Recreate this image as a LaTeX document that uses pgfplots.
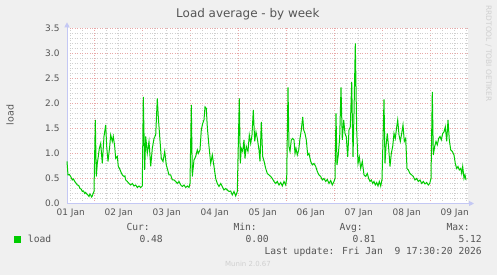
\documentclass[border=0pt]{standalone}
\usepackage{fontspec}
\setmainfont{DejaVu Sans}
\newfontfamily\monofont{DejaVu Sans Mono}
\usepackage{pgfplots}
\usepackage{pgfplotstable}
\pgfplotsset{compat=1.18}
\usetikzlibrary{arrows.meta}
\definecolor{munbg}{HTML}{F0F0F0}
\definecolor{txt}{HTML}{555555}
\definecolor{loadgreen}{HTML}{00CC00}
\definecolor{mgrid}{HTML}{E8A8A8}
\definecolor{mingrid}{HTML}{CFCFCF}
\definecolor{axcol}{HTML}{C4C8F4}
\definecolor{wm}{HTML}{D0D0D0}
\pgfplotstableread{
h v
10.15 0.84
10.65 0.57
11.3 0.58
12.0 0.54
12.8 0.47
13.4 0.49
14.0 0.44
14.6 0.41
15.3 0.37
16.0 0.36
16.65 0.30
17.2 0.29
17.8 0.24
18.4 0.25
19.0 0.20
19.5 0.22
20.0 0.19
20.6 0.17
21.15 0.14
21.6 0.19
22.0 0.17
22.4 0.13
22.8 0.15
23.2 0.20
23.65 0.24
24.3 1.67
24.8 0.54
25.3 0.80
25.8 0.94
26.3 1.10
27.0 1.20
27.8 0.80
28.65 1.34
29.5 1.57
30.0 1.14
30.65 0.84
31.5 1.14
32.0 1.37
32.8 1.24
33.3 1.34
34.0 1.14
34.5 0.90
35.3 0.94
35.8 0.74
36.4 0.70
37.0 0.64
37.8 0.57
38.65 0.54
39.1 0.55
39.5 0.47
40.3 0.44
41.15 0.40
42.0 0.37
42.8 0.40
43.65 0.35
44.5 0.37
45.3 0.32
46.15 0.35
47.0 0.32
47.8 0.35
48.3 2.13
49.0 0.67
49.5 1.34
50.3 1.00
51.15 1.24
52.0 0.74
52.8 1.10
53.65 1.30
54.5 1.37
55.3 2.10
55.8 1.73
56.5 1.34
57.3 0.90
58.15 0.84
59.0 1.04
59.8 0.77
60.3 0.70
61.15 0.57
62.0 0.57
62.8 0.47
63.65 0.47
64.5 0.44
65.3 0.40
66.15 0.44
67.0 0.37
67.8 0.34
68.65 0.37
69.5 0.32
70.3 0.35
71.15 0.32
71.65 0.40
72.3 1.97
72.8 0.54
73.65 0.87
74.5 0.94
75.3 1.07
75.8 1.00
76.65 1.07
77.3 1.47
78.0 1.60
78.65 1.67
79.15 1.93
79.8 1.90
80.3 1.53
81.15 1.14
82.0 0.80
82.8 0.97
83.65 0.74
84.5 0.50
85.3 0.40
86.15 0.34
87.0 0.40
87.8 0.34
88.65 0.27
89.5 0.30
90.3 0.27
91.15 0.24
92.0 0.25
92.8 0.17
93.65 0.24
94.5 0.15
95.3 0.24
96.3 2.10
96.8 0.80
97.3 1.10
98.0 1.04
98.65 1.27
99.15 0.90
99.8 1.14
100.65 1.04
101.3 1.37
102.0 1.20
102.65 1.37
103.3 1.87
104.0 1.24
104.65 1.43
105.3 1.30
106.15 1.07
106.65 0.84
107.3 1.63
108.0 0.94
108.65 0.85
109.5 0.70
110.3 0.60
111.15 0.57
112.0 0.54
112.8 0.50
113.65 0.44
114.5 0.40
115.3 0.44
116.15 0.37
117.0 0.42
117.8 0.35
118.65 0.44
119.5 0.37
120.0 0.50
120.65 2.32
121.15 1.13
121.65 1.04
122.3 1.27
123.0 1.30
123.65 1.27
124.15 1.00
124.65 1.10
125.3 0.97
126.0 1.07
126.65 1.30
127.3 1.47
128.0 1.73
128.5 1.47
129.15 1.40
129.8 1.27
130.5 0.97
131.15 1.00
132.0 0.84
132.8 0.77
133.65 0.80
134.5 0.74
135.3 0.64
136.15 0.57
137.0 0.54
137.8 0.47
138.65 0.50
139.5 0.44
140.3 0.48
141.15 0.40
142.0 0.46
142.8 0.37
143.65 0.44
144.15 0.50
144.65 1.80
145.15 0.77
145.8 0.97
146.5 1.33
147.15 2.32
147.8 1.27
148.5 1.67
149.15 1.40
149.8 1.33
150.5 0.93
151.15 1.47
151.8 1.53
152.5 2.43
153.15 0.93
153.65 1.80
154.3 3.20
155.0 1.47
155.65 0.80
156.3 0.93
157.0 0.70
157.8 0.84
158.65 0.57
159.5 0.54
160.3 0.60
161.0 0.50
161.65 0.44
162.3 0.47
163.0 0.40
163.65 0.44
164.3 0.37
165.0 0.42
165.65 0.35
166.3 0.44
167.0 0.35
167.65 0.48
168.65 2.08
169.15 0.80
169.65 1.14
170.3 1.40
171.0 1.10
171.65 0.74
172.3 1.00
173.0 1.14
173.65 1.40
174.3 1.30
175.0 1.53
175.5 1.67
176.15 1.37
176.8 1.24
177.5 1.40
178.15 1.57
178.8 1.24
179.5 1.30
180.15 0.70
180.8 0.67
181.65 0.60
182.5 0.57
183.3 0.54
184.15 0.47
185.0 0.50
185.8 0.44
186.65 0.47
187.5 0.40
188.3 0.44
189.15 0.39
190.0 0.42
190.8 0.37
191.5 0.40
192.15 0.50
192.8 2.23
193.3 0.97
194.0 1.14
194.65 1.24
195.3 1.17
196.0 1.30
196.65 1.34
197.3 1.27
198.0 1.40
198.65 1.43
199.3 1.53
200.0 1.24
200.65 1.67
201.3 1.27
202.0 1.07
202.8 1.04
203.65 0.97
204.3 0.80
205.0 0.70
205.65 0.74
206.3 0.67
207.0 0.70
207.5 0.60
208.0 0.74
208.65 0.50
209.15 0.57
209.65 0.47
}\loaddata
\begin{document}
\begin{tikzpicture}
\fill[munbg] (0bp,0bp) rectangle (497bp,275bp);
\begin{axis}[
  at={(67bp,71.5bp)}, anchor=south west,
  scale only axis, width=401bp, height=175.2bp,
  xmin=10.15, xmax=210.65, ymin=0, ymax=3.5,
  axis background/.style={fill=white},
  axis lines=left,
  axis line style={draw=axcol, line width=0.9bp, -{Triangle[length=5bp,width=5bp]}, shorten >=-6bp},
  xtick={24,48,72,96,120,144,168,192},
  xticklabel={\phantom{0}},
  minor xtick={12,18,30,36,42,54,60,66,78,84,90,102,108,114,126,132,138,150,156,162,174,180,186,198,204,210},
  extra x ticks={12,36,60,84,108,132,156,180,204},
  extra x tick labels={01 Jan,02 Jan,03 Jan,04 Jan,05 Jan,06 Jan,07 Jan,08 Jan,09 Jan},
  extra x tick style={grid=none, major tick length=0pt},
  ytick={0,0.5,1,1.5,2,2.5,3,3.5},
  minor y tick num=4,
  yticklabel style={/pgf/number format/fixed, /pgf/number format/fixed zerofill, /pgf/number format/precision=1, xshift=-4bp},
  xticklabel style={yshift=-1.5bp},
  /pgf/number format/assume math mode=true,
  major tick length=0pt, minor tick length=0pt,
  grid=both,
  major grid style={draw=mgrid, line width=0.7bp, dash pattern=on 1bp off 1.5bp},
  minor grid style={draw=mingrid, line width=0.7bp, dash pattern=on 1bp off 1.5bp},
  tick label style={font=\fontsize{9}{10}\selectfont, text=txt},
  title={Load average - by week},
  title style={font=\fontsize{12}{14}\selectfont, text=txt, at={(axis description cs:0.451,1.047)}, anchor=center},
  ylabel={load},
  ylabel style={font=\fontsize{9.5}{11}\selectfont, text=txt, at={(axis description cs:-0.142,0.505)}, anchor=center},
  legend style={at={(axis description cs:-0.1322,-0.2055)}, anchor=west, draw=none, fill=none, inner sep=0pt, outer sep=0pt, font=\monofont\fontsize{9.7}{11}\selectfont, text=txt, nodes={inner sep=0pt}, /tikz/every odd column/.style={column sep=7bp}},
  legend image code/.code={\fill[loadgreen] (0bp,-3bp) rectangle (6bp,3bp);},
  clip=false,
]
\addplot[loadgreen, line width=1bp] table[x=h, y=v] {\loaddata};
\addlegendentry{load}
\end{axis}
\begin{scope}[every node/.style={inner sep=0pt, text=txt, font=\monofont\fontsize{9.7}{11}\selectfont}]
\node[anchor=base east] at (150bp,44bp) {Cur:};
\node[anchor=base east] at (163bp,32.5bp) {0.48};
\node[anchor=base east] at (257bp,44bp) {Min:};
\node[anchor=base east] at (269bp,32.5bp) {0.00};
\node[anchor=base east] at (363bp,44bp) {Avg:};
\node[anchor=base east] at (376bp,32.5bp) {0.81};
\node[anchor=base east] at (470bp,44bp) {Max:};
\node[anchor=base east] at (482bp,32.5bp) {5.12};
\node[anchor=base east] at (482bp,20.5bp) {Last update: Fri Jan~~9 17:30:20 2026};
\end{scope}
\node[inner sep=0pt, text=wm, font=\fontsize{7}{8}\selectfont] at (248bp,11bp) {Munin 2.0.67};
\node[inner sep=0pt, text=wm, font=\fontsize{7.5}{8}\selectfont, rotate=-90] at (488.5bp,221.5bp) {RRDTOOL / TOBI OETIKER};
\end{tikzpicture}
\end{document}
